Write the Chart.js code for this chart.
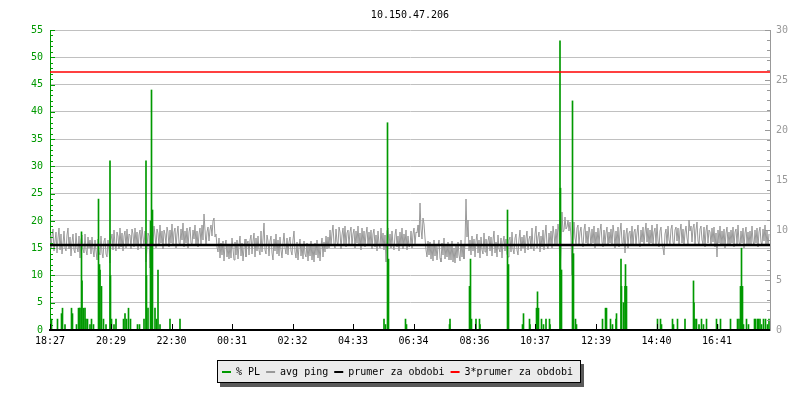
<!DOCTYPE html>
<html>
<head>
<meta charset="utf-8">
<title>10.150.47.206</title>
<script src="https://cdn.jsdelivr.net/npm/chart.js@4.4.1/dist/chart.umd.min.js"></script>
<style>
  html, body { margin: 0; padding: 0; background: #fff; }
</style>
</head>
<body>
<canvas id="graf" width="800" height="400"></canvas>
<script>
// graf ping / packet loss za 24 h (2 min na pixel)
const titulek = "10.150.47.206";
const casyOs  = ["18:27", "20:29", "22:30", "00:31", "02:32", "04:33", "06:34", "08:36", "10:37", "12:39", "14:40", "16:41"];
const rozsahMin = 1440;   // minut na ose x
const krokPing  = 2;      // minut mezi vzorky pingu

// avg ping [ms], pravá osa
const avgPing = [
  9.5, 8.1, 9.4, 10.1, 7.9, 8.9, 9.8, 7.7, 9.2, 10.2, 8.0, 9.6, 7.6, 8.6, 9.9, 8.2, 7.9, 9.5, 10.2, 8.1,
  9.3, 7.4, 8.8, 9.6, 8.0, 7.7, 9.7, 8.3, 7.8, 9.4, 7.2, 9.0, 9.5, 8.1, 7.7, 9.6, 8.0, 7.5, 9.3, 8.2,
  9.0, 7.6, 9.3, 8.0, 7.3, 9.0, 7.9, 7.0, 9.1, 7.8, 7.5, 9.4, 7.7, 7.2, 8.9, 9.2, 7.6, 7.3, 9.0, 8.0,
  6.7, 9.0, 9.6, 8.0, 10.0, 8.5, 7.9, 9.8, 9.4, 8.1, 10.2, 8.3, 9.7, 7.9, 9.4, 9.9, 8.2, 10.1, 8.4, 9.6,
  9.5, 8.1, 10.1, 9.6, 8.3, 10.2, 8.6, 9.8, 8.0, 9.5, 10.0, 8.2, 10.3, 9.3, 8.4, 9.9, 6.8, 8.2, 9.7, 9.4,
  6.2, 8.4, 10.0, 8.5, 10.4, 9.5, 8.2, 10.1, 9.7, 8.4, 10.5, 8.7, 9.9, 8.1, 10.0, 9.6, 8.5, 10.3, 9.8, 8.3,
  10.0, 8.7, 10.6, 8.4, 9.8, 10.2, 8.2, 9.6, 10.4, 8.7, 8.5, 10.1, 9.0, 10.7, 8.3, 9.9, 8.7, 10.2, 8.2, 9.8,
  10.3, 8.7, 8.5, 10.0, 9.1, 10.5, 8.5, 9.9, 8.3, 9.6, 10.2, 8.6, 10.5, 9.0, 11.6, 10.0, 8.4, 9.8, 10.3, 8.9,
  10.0, 10.5, 9.4, 10.9, 11.2, 9.3, 9.6, 8.3, 7.8, 9.2, 7.2, 8.7, 7.5, 8.9, 6.9, 8.5, 9.0, 7.3, 8.4, 7.1,
  8.6, 7.2, 9.2, 8.1, 7.0, 8.8, 7.5, 9.0, 7.1, 8.5, 9.4, 7.4, 8.7, 6.9, 8.2, 9.1, 7.3, 8.6, 8.9, 7.5,
  9.0, 9.5, 7.6, 8.9, 9.7, 7.3, 9.2, 7.9, 9.4, 8.0, 7.5, 9.9, 7.8, 9.1, 10.7, 8.0, 7.6, 9.5, 8.9, 7.4,
  8.9, 9.4, 7.7, 7.0, 9.1, 7.9, 9.6, 7.6, 9.0, 7.4, 9.3, 8.0, 7.2, 8.7, 9.7, 8.2, 7.6, 9.2, 7.5, 8.8,
  9.3, 7.9, 7.5, 9.0, 9.9, 7.8, 7.2, 8.8, 7.0, 8.3, 9.1, 7.4, 8.5, 7.1, 8.9, 7.6, 7.3, 8.7, 6.9, 8.6,
  7.4, 8.9, 7.0, 8.5, 6.8, 8.7, 7.5, 9.0, 7.2, 8.6, 6.9, 8.4, 9.2, 7.3, 8.8, 7.8, 9.4, 8.1, 9.3, 8.2,
  10.0, 8.4, 9.7, 10.5, 8.6, 8.2, 10.1, 8.8, 8.5, 10.3, 9.8, 8.1, 9.5, 10.2, 8.6, 10.4, 8.3, 9.7, 10.0, 8.5,
  9.8, 10.3, 8.4, 9.6, 10.1, 8.2, 9.9, 8.7, 10.4, 8.5, 9.7, 8.0, 10.2, 8.6, 9.9, 8.3, 9.6, 10.3, 8.4, 9.8,
  8.5, 10.0, 8.1, 9.6, 10.1, 8.3, 9.5, 7.9, 9.9, 8.6, 8.2, 10.2, 8.4, 9.7, 8.0, 9.5, 6.8, 9.9, 10.2, 8.5,
  9.6, 8.2, 9.9, 8.5, 8.0, 9.5, 10.1, 8.3, 9.4, 7.9, 9.8, 8.4, 10.2, 8.1, 9.6, 8.5, 10.0, 8.0, 9.4, 8.3,
  8.4, 9.9, 8.2, 9.6, 10.2, 8.5, 9.8, 9.7, 10.5, 9.3, 12.7, 10.1, 9.1, 11.2, 10.6, 9.2, 8.0, 7.3, 8.9, 7.5,
  8.8, 7.1, 8.5, 6.9, 9.0, 7.4, 8.6, 7.0, 8.4, 9.0, 7.2, 6.8, 8.7, 7.5, 9.2, 7.1, 8.5, 7.3, 8.8, 7.0,
  8.4, 7.0, 8.9, 6.8, 8.2, 6.7, 8.6, 7.2, 8.8, 7.5, 6.9, 9.0, 7.3, 8.5, 7.1, 8.7, 13.1, 9.3, 11.0, 7.9,
  9.0, 7.5, 9.4, 7.9, 9.1, 7.3, 8.9, 9.6, 7.7, 9.0, 7.2, 9.3, 8.0, 7.6, 9.7, 7.8, 9.1, 7.4, 8.9, 9.4,
  7.9, 9.3, 7.4, 9.0, 9.9, 7.7, 8.8, 7.3, 9.5, 8.1, 7.8, 9.2, 7.2, 8.8, 9.4, 7.9, 9.1, 7.6, 7.3, 9.0,
  9.3, 7.8, 9.8, 8.1, 7.6, 9.2, 9.6, 8.0, 7.5, 9.1, 10.0, 7.9, 9.3, 8.2, 9.5, 7.7, 9.2, 9.9, 8.0, 9.1,
  9.4, 8.1, 10.2, 8.3, 7.9, 9.6, 10.4, 8.2, 9.3, 9.8, 7.8, 9.4, 8.3, 10.0, 8.0, 9.5, 10.5, 8.4, 8.1, 9.7,
  8.5, 9.9, 8.2, 10.4, 9.6, 8.4, 10.1, 8.6, 10.6, 9.8, 5.3, 8.3, 11.8, 9.8, 10.0, 11.3, 10.1, 10.3, 11.0, 9.9,
  10.8, 9.3, 5.5, 8.7, 10.8, 9.2, 8.6, 10.2, 10.5, 8.5, 9.8, 10.3, 8.8, 8.3, 10.0, 10.6, 8.7, 9.9, 8.4, 10.3,
  9.7, 8.4, 10.1, 8.7, 10.4, 8.2, 9.8, 8.6, 10.2, 8.5, 9.9, 10.6, 8.8, 8.3, 10.0, 8.6, 9.7, 10.3, 8.4, 9.8,
  8.7, 10.1, 8.4, 10.5, 9.7, 8.2, 9.9, 8.6, 10.3, 8.3, 9.8, 10.7, 8.7, 8.5, 10.0, 7.7, 9.6, 10.2, 8.2, 9.7,
  9.9, 8.6, 10.4, 8.4, 9.8, 10.1, 8.5, 9.7, 10.5, 8.7, 8.3, 10.0, 8.8, 10.3, 8.5, 9.8, 10.7, 8.8, 10.2, 8.4,
  10.0, 8.7, 10.5, 8.5, 9.8, 10.2, 8.6, 10.6, 8.9, 8.3, 9.9, 10.3, 8.7, 8.2, 7.5, 9.6, 10.1, 8.5, 10.4, 9.0,
  8.6, 10.1, 10.5, 8.8, 8.4, 10.0, 10.3, 8.9, 10.2, 8.5, 9.9, 10.6, 8.7, 10.1, 8.4, 9.8, 10.4, 9.2, 8.6, 11.0,
  9.9, 10.4, 8.8, 10.2, 10.6, 8.6, 10.0, 10.8, 8.9, 8.5, 10.1, 10.4, 9.0, 8.6, 10.3, 8.3, 9.9, 10.5, 8.7, 10.0,
  9.8, 8.5, 10.2, 8.8, 10.3, 8.3, 9.7, 7.3, 10.0, 8.7, 10.4, 8.4, 9.9, 8.6, 10.1, 8.2, 9.7, 10.3, 8.6, 9.8,
  8.5, 10.0, 8.7, 10.3, 8.3, 9.8, 10.1, 8.6, 10.5, 8.8, 8.4, 9.9, 8.7, 10.2, 8.2, 9.7, 10.3, 8.6, 9.8, 8.4,
  9.9, 8.6, 10.4, 8.9, 8.4, 10.0, 8.7, 10.2, 8.3, 9.8, 10.3, 8.8, 8.5, 10.1, 8.9, 10.5, 8.6, 9.9, 8.4, 9.6
];

// % PL — jen nenulove vzorky (minuta od 18:27, hodnota), leva osa
const plMinuta = [
  3, 15, 23, 25, 30, 43, 45, 53, 57, 59, 60, 63, 64, 67, 70, 72, 75, 80, 83, 87,
  97, 99, 100, 103, 107, 112, 120, 121, 123, 128, 132, 147, 150, 153, 157, 161, 175, 179, 188, 192,
  193, 196, 201, 203, 205, 210, 213, 216, 220, 240, 260,
  668, 671, 675, 677, 711, 713, 799, 800, 839, 841, 843, 852, 859, 860, 915, 917, 945, 947, 959,
  960, 973, 975, 977, 983, 987, 992, 999, 1000, 1020, 1021, 1023, 1045, 1047, 1051, 1053, 1105, 1111, 1113, 1121,
  1125, 1132, 1133, 1142, 1143, 1147, 1150, 1151, 1153, 1215, 1221, 1223, 1245, 1247, 1255, 1270, 1287, 1288, 1290, 1293,
  1298, 1303, 1307, 1313, 1333, 1335, 1341, 1361, 1375, 1378, 1381, 1383, 1385, 1387, 1393, 1397, 1409, 1411, 1415, 1417,
  1420, 1423, 1427, 1431, 1435, 1438
];
const plHodnota = [
  2, 2, 3, 4, 1, 4, 3, 1, 4, 4, 4, 18, 9, 4, 4, 2, 2, 1, 2, 1,
  24, 12, 11, 8, 2, 1, 31, 10, 2, 1, 2, 2, 3, 2, 4, 2, 1, 1, 2, 31,
  10, 4, 20, 44, 22, 4, 2, 11, 1, 2, 2,
  2, 1, 38, 13, 2, 1, 1, 2, 8, 13, 2, 2, 2, 1, 22, 12, 1, 3, 2,
  1, 4, 7, 4, 2, 1, 2, 2, 1, 53, 26, 11, 42, 14, 2, 1, 2, 4, 4, 2,
  1, 2, 3, 13, 8, 5, 8, 12, 8, 2, 2, 1, 2, 1, 2, 2, 9, 5, 2, 2,
  1, 2, 1, 2, 2, 1, 2, 2, 2, 2, 8, 15, 8, 1, 2, 1, 2, 2, 2, 2,
  2, 1, 2, 2, 1, 2
];

const prumer  = 8.5;   // prumer za obdobi [ms]
const prumer3 = 25.8;  // 3*prumer za obdobi [ms]

const ZELENA = "#009900";
const SEDA   = "#999999";
const PISMO  = { family: "'DejaVu Sans Mono', monospace", size: 10 };
const FONT   = "10px 'DejaVu Sans Mono', monospace";

// minuty tiku na ose x z casu popisku
const start = casyOs[0].split(":").map(Number);
const tikyMin = casyOs.map(t => {
  const [h, m] = t.split(":").map(Number);
  return ((h * 60 + m) - (start[0] * 60 + start[1]) + 1440) % 1440;
});

const pingData = avgPing.map((v, i) => ({ x: i * krokPing, y: v }));
const plData   = plMinuta.map((m, i) => ({ x: m, y: plHodnota[i] }));

// drobne ticky na osach, osa x pres sloupce, titulek, legenda
const dekorace = {
  id: "dekorace",
  afterDatasetsDraw(chart) {
    const c  = chart.ctx;
    const a  = chart.chartArea;
    const sx = chart.scales.x, sy = chart.scales.y, sy2 = chart.scales.y2;
    c.save();
    c.lineWidth = 1;

    c.strokeStyle = ZELENA;
    for (let v = 0; v <= 55; v++) {
      const y = Math.round(sy.getPixelForValue(v)) + 0.5;
      c.beginPath();
      c.moveTo(a.left, y);
      c.lineTo(a.left + (v % 5 === 0 ? 5 : 3), y);
      c.stroke();
    }

    c.strokeStyle = SEDA;
    for (let v = 0; v <= 30; v++) {
      const y = Math.round(sy2.getPixelForValue(v)) + 0.5;
      c.beginPath();
      c.moveTo(a.right, y);
      c.lineTo(a.right - (v % 5 === 0 ? 5 : 3), y);
      c.stroke();
    }

    c.strokeStyle = "#000";
    c.lineWidth = 2;
    c.beginPath();
    c.moveTo(a.left, a.bottom);
    c.lineTo(a.right, a.bottom);
    c.stroke();
    c.lineWidth = 1;
    tikyMin.forEach(m => {
      const x = Math.round(sx.getPixelForValue(m)) + 0.5;
      c.beginPath();
      c.moveTo(x, a.bottom);
      c.lineTo(x, a.bottom - 6);
      c.stroke();
    });
    c.restore();
  },
  afterDraw(chart) {
    const c = chart.ctx;
    const a = chart.chartArea;
    c.save();
    c.font = FONT;
    c.fillStyle = "#000";
    c.textAlign = "center";
    c.textBaseline = "alphabetic";
    c.fillText(titulek, (a.left + a.right) / 2, 18);

    // legenda
    const polozky = chart.data.datasets
      .slice()
      .sort((p, q) => p.poradi - q.poradi)
      .map(d => ({ text: d.label, barva: d.legendBarva }));
    const sirky = polozky.map(p => c.measureText(p.text).width);
    const obsah = sirky.reduce((s, w) => s + w, 0) + polozky.length * 14 + (polozky.length - 1) * 6;
    const w = Math.round(obsah + 13), h = 23;
    const x0 = Math.round(398.5 - w / 2), y0 = 360;
    c.fillStyle = "#5a5a5a";
    c.fillRect(x0 + 3, y0 + 4, w, h);
    c.fillStyle = "#ebebeb";
    c.fillRect(x0, y0, w, h);
    c.strokeStyle = "#000";
    c.lineWidth = 1;
    c.strokeRect(x0 + 0.5, y0 + 0.5, w - 1, h - 1);

    c.textAlign = "left";
    let x = x0 + 5;
    polozky.forEach((p, i) => {
      c.fillStyle = p.barva;
      c.fillRect(x, 371, 9, 2);
      c.fillStyle = "#000";
      c.fillText(p.text, x + 14, 374.5);
      x += 14 + sirky[i] + 6;
    });
    c.restore();
  }
};

const ctx = document.getElementById("graf").getContext("2d");
new Chart(ctx, {
  type: "line",
  data: {
    datasets: [
      {
        label: "% PL", type: "bar", data: plData, yAxisID: "y",
        backgroundColor: ZELENA, barThickness: 1, order: 2,
        poradi: 0, legendBarva: ZELENA
      },
      {
        label: "avg ping", data: pingData, yAxisID: "y2",
        borderColor: SEDA, borderWidth: 1, pointRadius: 0, tension: 0, order: 3,
        poradi: 1, legendBarva: SEDA
      },
      {
        label: "prumer za obdobi", data: [{ x: 0, y: prumer }, { x: rozsahMin, y: prumer }], yAxisID: "y2",
        borderColor: "#000", borderWidth: 2.5, pointRadius: 0, order: 1,
        poradi: 2, legendBarva: "#000"
      },
      {
        label: "3*prumer za obdobi", data: [{ x: 0, y: prumer3 }, { x: rozsahMin, y: prumer3 }], yAxisID: "y2",
        borderColor: "#ff0000", borderWidth: 1.5, pointRadius: 0, order: 0,
        poradi: 3, legendBarva: "#ff0000"
      }
    ]
  },
  options: {
    responsive: false,
    animation: false,
    layout: { padding: { top: 30, left: 0, right: 0, bottom: 0 } },
    plugins: {
      legend: { display: false },
      title: { display: false },
      tooltip: { enabled: false }
    },
    scales: {
      x: {
        type: "linear", min: 0, max: rozsahMin, offset: false,
        grid: { drawOnChartArea: false, drawTicks: false },
        border: { color: "#000", width: 2 },
        ticks: {
          font: PISMO, color: "#000", padding: 5, maxRotation: 0, autoSkip: false,
          callback: v => casyOs[tikyMin.indexOf(v)] ?? ""
        },
        afterBuildTicks: ax => { ax.ticks = tikyMin.map(v => ({ value: v })); },
        afterFit: ax => { ax.height = 70; }
      },
      y: {
        position: "left", min: 0, max: 55,
        grid: { color: "#c0c0c0", drawTicks: false },
        border: { color: ZELENA },
        ticks: { stepSize: 5, font: PISMO, color: ZELENA, padding: 7 },
        afterFit: ax => { ax.width = 50; }
      },
      y2: {
        position: "right", min: 0, max: 30,
        grid: { drawOnChartArea: false, drawTicks: false },
        border: { color: SEDA },
        ticks: { stepSize: 5, font: PISMO, color: SEDA, padding: 6 },
        afterFit: ax => { ax.width = 30; }
      }
    }
  },
  plugins: [dekorace]
});
</script>
</body>
</html>
